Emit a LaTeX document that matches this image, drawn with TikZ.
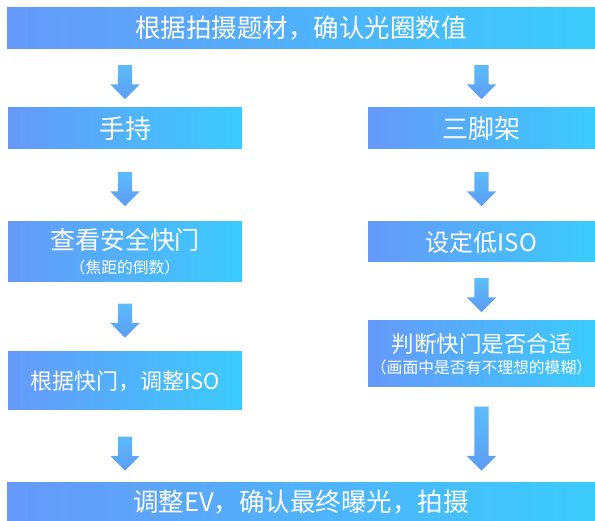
\documentclass[tikz,border=0pt]{standalone}
\usepackage{fontspec}
\setmainfont{Noto Sans CJK SC}
\usetikzlibrary{shapes.arrows,calc}
\definecolor{bl}{HTML}{6699FA}
\definecolor{cy}{HTML}{3BCBFB}
\definecolor{atop}{HTML}{5CBCFA}
\definecolor{abot}{HTML}{5C9CF6}
\tikzset{
  stepbox/.style={rectangle,inner sep=0pt,text=white,align=center,left color=bl,right color=cy,font=\fontsize{25.5}{29}\selectfont},
  downarrow/.style={single arrow,shape border rotate=270,inner sep=7pt,minimum width=29pt,
    single arrow head extend=7.5pt,single arrow head indent=0pt,minimum height=34pt,top color=atop,bottom color=abot}
}
\newcommand\subtext[1]{\\[-5pt]{\fontsize{15.8}{18}\selectfont #1}}
\begin{document}
\begin{tikzpicture}[x=1pt,y=-1pt]
\useasboundingbox (0,0) rectangle (595,521);
% boxes
\node[stepbox,minimum width=588pt,minimum height=41pt] (top) at (301,28.5) {根据拍摄题材，确认光圈数值};
\node[stepbox,minimum width=234pt,minimum height=41pt,font=\fontsize{26}{30}\selectfont] (hand) at (125,128.5) {手持};
\node[stepbox,minimum width=227pt,minimum height=41pt,font=\fontsize{26}{30}\selectfont] (tripod) at (481.5,128.5) {三脚架};
\node[stepbox,minimum width=234pt,minimum height=60pt,font=\fontsize{25}{29}\selectfont] (check) at (125,252) {查看安全快门\subtext{（焦距的倒数）}};
\node[stepbox,minimum width=227pt,minimum height=40pt,font=\fontsize{24}{28}\selectfont] (lowiso) at (481.5,242) {设定低ISO};
\node[stepbox,minimum width=234pt,minimum height=58pt,font=\fontsize{22}{26}\selectfont] (adjust) at (125,381) {根据快门，调整ISO};
\node[stepbox,minimum width=227pt,minimum height=66pt,font=\fontsize{22.5}{26}\selectfont] (judge) at (481.5,354) {判断快门是否合适\subtext{（画面中是否有不理想的模糊）}};
\node[stepbox,minimum width=588pt,minimum height=38pt] (bottom) at (301,502) {调整EV，确认最终曝光，拍摄};
% arrows
\node[downarrow] (a1) at ($(top.south -| hand)!.5!(hand.north)$) {};
\node[downarrow] (a2) at ($(hand.south)!.5!(check.north)$) {};
\node[downarrow] (a3) at ($(check.south)!.5!(adjust.north)$) {};
\node[downarrow] (a4) at ($(adjust.south)!.55!(bottom.north -| adjust)$) {};
\node[downarrow] (b1) at ($(top.south -| tripod)!.5!(tripod.north)$) {};
\node[downarrow] (b2) at ($(tripod.south)!.5!(lowiso.north)$) {};
\node[downarrow] (b3) at ($(lowiso.south)!.5!(judge.north)$) {};
\node[downarrow,minimum height=64pt] (b4) at ($(judge.south)!.5!(bottom.north -| judge)$) {};
\end{tikzpicture}
\end{document}
